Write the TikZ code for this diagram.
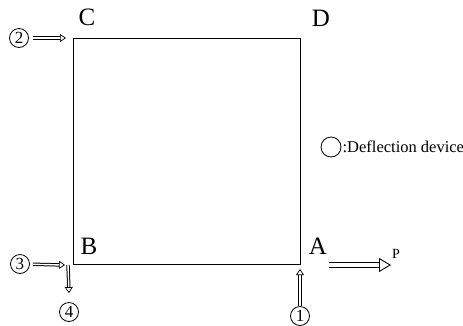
\documentclass[tikz,border=0pt]{standalone}
\usepackage{fontspec}
\setmainfont{Liberation Serif}
\usetikzlibrary{positioning,arrows.meta}

\tikzset{
  num/.style={draw, circle, line width=0.8pt, inner sep=0pt, minimum size=19pt, font=\fontsize{17}{17}\selectfont},
  corner/.style={font=\fontsize{25}{25}\selectfont},
  hollow/.style={line width=3.4pt, shorten >=5.5pt,
    postaction={draw=white, line width=1.4pt, shorten >=5pt},
    postaction={draw=white, line width=0.7pt, shorten >=0pt, -{Triangle[color=black, fill=white, length=6pt, width=8pt]}}},
  bighollow/.style={line width=5.8pt, shorten >=11.5pt,
    postaction={draw=white, line width=3.6pt, shorten >=11pt},
    postaction={draw=white, line width=0.9pt, shorten >=0pt, -{Triangle[color=black, fill=white, length=12pt, width=14pt]}}}
}

\begin{document}
\begin{tikzpicture}[x=1pt, y=-1pt]
    \useasboundingbox (0,0) rectangle (463,325);

    % Plate corners
    \coordinate (C) at (73,38);
    \coordinate (D) at (300,38);
    \coordinate (B) at (73,264);
    \coordinate (A) at (300,264);
    \draw[line width=0.9pt] (C) -- (D) -- (A) -- (B) -- cycle;

    \node[corner] (lC) at (87,17) {C};
    \node[corner] (lD) at (321,18) {D};
    \node[corner] (lB) at (89,246) {B};
    \node[corner] (lA) at (318,246) {A};

    % Numbered inputs
    \node[num] (n2) at (19,38) {2};
    \node[num] (n3) at (20,264) {3};
    \node[num] (n4) at (69,312) {4};
    \node[num] (n1) at (300,316) {1};

    \coordinate (t2) at (66,38);
    \coordinate (t3) at (65,265);
    \coordinate (s4) at (68,265);
    \coordinate (t1) at (300,269);

    \draw[hollow, shorten <=4pt] (n2) -- (t2);
    \draw[hollow, shorten <=3pt] (n3) -- (t3);
    \draw[hollow] (s4) -- ([yshift=9pt]n4.north);
    \draw[hollow] (n1.north) -- (t1);

    % Load P
    \coordinate (p0) at (329,265);
    \coordinate (p1) at (391,265);
    \draw[bighollow] (p0) -- (p1);
    \node[font=\fontsize{14}{14}\selectfont] (lP) at (396,254) {P};

    % Legend
    \node[draw, circle, line width=0.8pt, minimum size=20pt, inner sep=0pt] (dev) at (331,147) {};
    \node[right=0pt of dev, font=\fontsize{16.5}{16.5}\selectfont, inner sep=1pt] (devtext) {:Deflection device};
\end{tikzpicture}
\end{document}
